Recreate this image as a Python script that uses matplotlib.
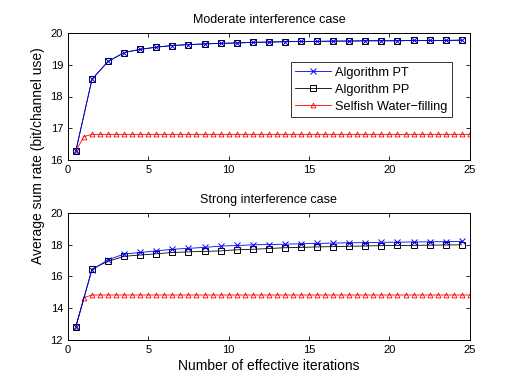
import matplotlib
matplotlib.use("Agg")
import matplotlib.pyplot as plt
import numpy as np

plt.rcParams["font.family"] = ["Liberation Sans", "DejaVu Sans"]

# iteration positions
iters = np.arange(0.5, 25.0, 1.0)          # PT / PP markers
iters_sw = np.arange(0.5, 25.01, 0.5)      # selfish water-filling markers

# moderate interference case
mod_pt = [16.30, 18.54, 19.10, 19.38, 19.48, 19.55, 19.60, 19.63, 19.65, 19.67,
          19.68, 19.70, 19.71, 19.72, 19.73, 19.73, 19.74, 19.74, 19.75, 19.75,
          19.75, 19.76, 19.76, 19.76, 19.77]
mod_pp = list(mod_pt)
mod_sw = [16.30, 16.74] + [16.81] * 48

# strong interference case
str_pt = [12.85, 16.40, 17.05, 17.40, 17.50, 17.60, 17.70, 17.76, 17.82, 17.90,
          17.94, 17.98, 18.00, 18.02, 18.05, 18.07, 18.09, 18.11, 18.12, 18.14,
          18.15, 18.16, 18.17, 18.18, 18.20]
str_pp = [12.85, 16.47, 16.95, 17.26, 17.34, 17.42, 17.50, 17.54, 17.57, 17.60,
          17.67, 17.70, 17.75, 17.80, 17.82, 17.85, 17.87, 17.89, 17.91, 17.93,
          17.94, 17.95, 17.96, 17.97, 17.98]
str_sw = [12.85, 14.67] + [14.83] * 48

fig = plt.figure(figsize=(5.18, 3.86), dpi=100, facecolor="white")
ax1 = fig.add_axes([0.131, 0.585, 0.776, 0.330])
ax2 = fig.add_axes([0.131, 0.119, 0.776, 0.330])


def draw(ax, pt, pp, sw):
    ax.plot(iters_sw, sw, color="red", marker="^", markersize=3.5,
            markerfacecolor="none", markeredgewidth=0.6, linewidth=0.6,
            label="Selfish Water\u2212filling", zorder=2)
    ax.plot(iters, pp, color="black", marker="s", markersize=4.5,
            markerfacecolor="none", markeredgewidth=0.7, linewidth=0.6,
            label="Algorithm PP", zorder=3)
    ax.plot(iters, pt, color="#0000ff", marker="x", markersize=4,
            markeredgewidth=0.7, linewidth=0.6, label="Algorithm PT", zorder=4)
    ax.set_xlim(0, 25)
    ax.set_xticks([0, 5, 10, 15, 20, 25])
    ax.tick_params(direction="in", top=True, right=True, labelsize=8, length=3, width=0.6)
    for s in ax.spines.values():
        s.set_linewidth(0.7)


draw(ax1, mod_pt, mod_pp, mod_sw)
ax1.set_ylim(16, 20)
ax1.set_yticks([16, 17, 18, 19, 20])
ax1.set_title("Moderate interference case", fontsize=9, pad=7)
h, l = ax1.get_legend_handles_labels()
leg = ax1.legend(h[::-1], l[::-1], loc="upper right", bbox_to_anchor=(0.955, 0.77),
                 fontsize=9.2, frameon=True, fancybox=False, edgecolor="black",
                 borderpad=0.35, labelspacing=0.4, handlelength=2.8, handletextpad=0.3,
                 borderaxespad=0)
leg.get_frame().set_linewidth(0.7)

draw(ax2, str_pt, str_pp, str_sw)
ax2.set_ylim(12, 20)
ax2.set_yticks([12, 14, 16, 18, 20])
ax2.set_title("Strong interference case", fontsize=9, pad=7)
ax2.set_xlabel("Number of effective iterations", fontsize=10, labelpad=3)

fig.text(0.073, 0.596, "Average sum rate (bit/channel use)", rotation=90,
         ha="center", va="center", fontsize=10)

fig.savefig("out.png", dpi=100, facecolor="white")
